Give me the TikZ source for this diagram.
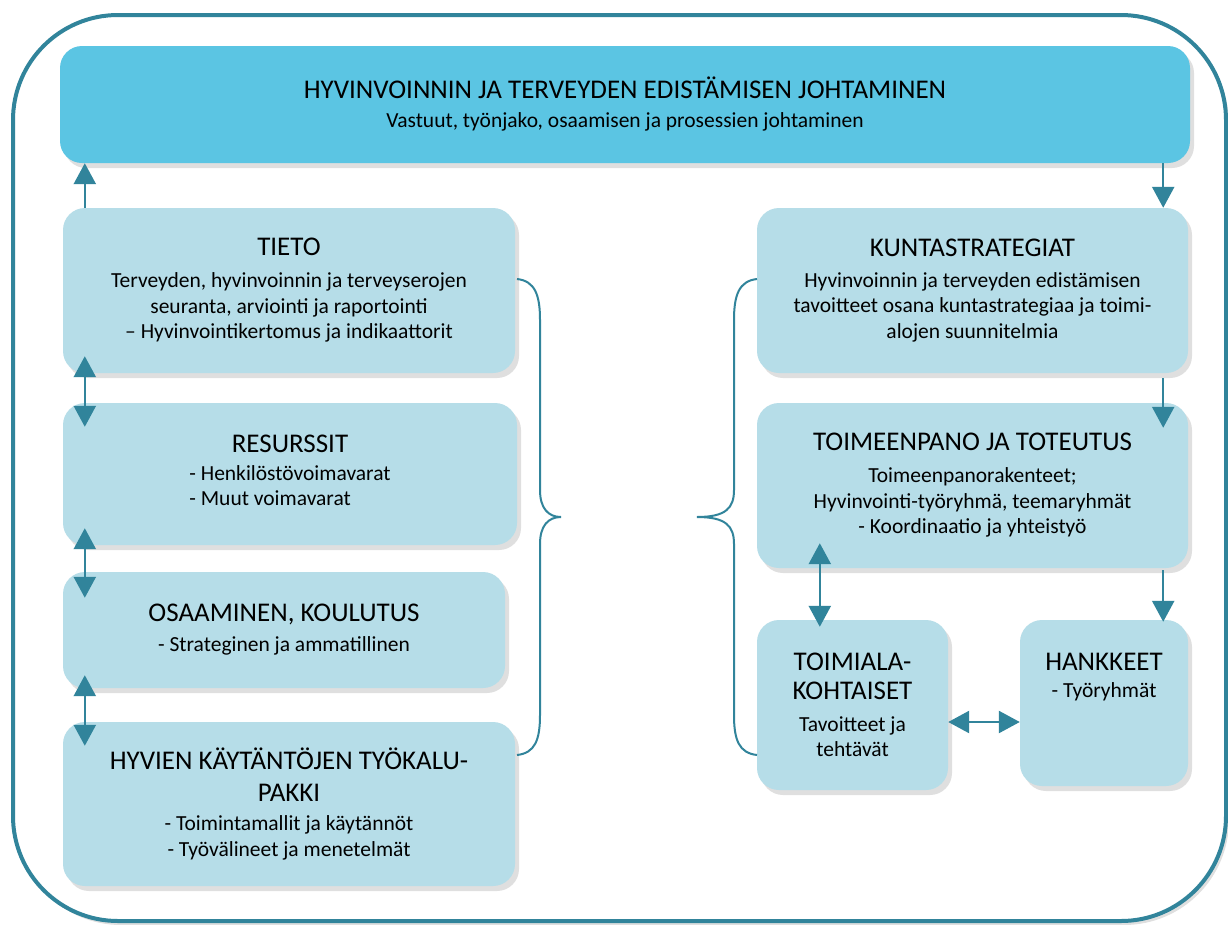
\documentclass[tikz,border=0pt]{standalone}
\usepackage{fontspec}
\setmainfont{Carlito}
\usetikzlibrary{arrows.meta,shadows,calc}

\definecolor{headblue}{HTML}{5BC5E3}
\definecolor{boxblue}{HTML}{B6DDE8}
\definecolor{teal}{HTML}{31849B}

\newcommand{\boxtitle}[1]{{\fontsize{27}{32}\selectfont #1}}

\tikzset{
  panel/.style={rectangle, rounded corners=22pt, fill=boxblue, draw=none,
    align=center, inner sep=0pt, font=\fontsize{21.5}{25.5}\selectfont,
    drop shadow={opacity=0.25, shadow xshift=4pt, shadow yshift=-5pt}},
  headpanel/.style={panel, fill=headblue},
  flow/.style={teal, line width=2.5pt, -{Triangle[width=22pt,length=21pt]}},
  flowboth/.style={teal, line width=2.5pt,
    {Triangle[width=22pt,length=21pt]}-{Triangle[width=22pt,length=21pt]}},
  bracket/.style={teal, line width=2pt},
}

\begin{document}
\begin{tikzpicture}[x=1pt,y=-1pt]
  \useasboundingbox (0,0) rectangle (1228,924);

  % Outer frame
  \draw[teal, fill=white, line width=4pt, rounded corners=105pt,
    drop shadow={opacity=0.25, shadow xshift=3pt, shadow yshift=-4pt}]
    (13,15) rectangle (1226,921);

  % Header
  \node[headpanel, minimum width=1130pt, minimum height=117pt] (head) at (625,104.5)
    {\boxtitle{HYVINVOINNIN JA TERVEYDEN EDISTÄMISEN JOHTAMINEN}\\[3.5pt]
     Vastuut, työnjako, osaamisen ja prosessien johtaminen};

  % Left column
  \node[panel, minimum width=452pt, minimum height=165pt] (tieto) at (289,290.5)
    {\boxtitle{TIETO}\\[6.5pt]
     Terveyden, hyvinvoinnin ja terveyserojen\\
     seuranta, arviointi ja raportointi\\
     – Hyvinvointikertomus ja indikaattorit};
  \node[panel, minimum width=454pt, minimum height=142pt] (resurssit) at (290,474)
    {\boxtitle{RESURSSIT}\\[9pt]
     \begin{tabular}{@{}l@{}}- Henkilöstövoimavarat\\- Muut voimavarat\end{tabular}};
  \node[panel, minimum width=442pt, minimum height=116pt] (osaaminen) at (284,630)
    {\boxtitle{OSAAMINEN, KOULUTUS}\\[4.5pt]
     - Strateginen ja ammatillinen};
  \node[panel, minimum width=452pt, minimum height=164pt] (hyvat) at (289,804)
    {\boxtitle{HYVIEN KÄYTÄNTÖJEN TYÖKALU-}\\[6.5pt]
     \boxtitle{PAKKI}\\[3.5pt]
     - Toimintamallit ja käytännöt\\
     - Työvälineet ja menetelmät};

  % Right column
  \node[panel, minimum width=431pt, minimum height=165pt] (strategia) at (972.5,290.5)
    {\boxtitle{KUNTASTRATEGIAT}\\[5.5pt]
     Hyvinvoinnin ja terveyden edistämisen\\
     tavoitteet osana kuntastrategiaa ja toimi-\\
     alojen suunnitelmia};
  \node[panel, minimum width=431pt, minimum height=165pt] (toimeenpano) at (972.5,485.5)
    {\boxtitle{TOIMEENPANO JA TOTEUTUS}\\[6.5pt]
     Toimeenpanorakenteet;\\
     Hyvinvointi-työryhmä, teemaryhmät\\
     - Koordinaatio ja yhteistyö};
  \node[panel, minimum width=191pt, minimum height=170pt] (toimiala) at (852.5,705)
    {\boxtitle{TOIMIALA-}\\[3.5pt]
     \boxtitle{KOHTAISET}\\[6.5pt]
     Tavoitteet ja\\
     tehtävät};
  \node[panel, minimum width=168pt, minimum height=166pt] (hankkeet) at (1104,703) {};
  \node[align=center, font=\fontsize{21.5}{25.5}\selectfont, anchor=north]
    (hanketeksti) at ([yshift=-30pt]hankkeet.north)
    {\boxtitle{HANKKEET}\\[1.5pt] - Työryhmät};

  % Arrows, left
  \draw[flow] ([xshift=22pt]tieto.north west) -- ([xshift=22pt]tieto.north west |- head.south);
  \draw[flowboth] ([xshift=22pt,yshift=17pt]tieto.south west)
    -- ([xshift=22pt,yshift=-24pt]resurssit.north west);
  \draw[flowboth] ([xshift=22pt,yshift=17pt]resurssit.south west)
    -- ([xshift=22pt,yshift=-26pt]osaaminen.north west);
  \draw[flowboth] ([xshift=22pt,yshift=13pt]osaaminen.south west)
    -- ([xshift=22pt,yshift=-24pt]hyvat.north west);

  % Arrows, right
  \draw[flow] ([xshift=-25pt]strategia.north east |- head.south) -- ([xshift=-25pt]strategia.north east);
  \draw[flow] ([xshift=-25pt,yshift=-5pt]strategia.south east)
    -- ([xshift=-25pt,yshift=-25pt]toimeenpano.north east);
  \draw[flow] ([xshift=-25pt,yshift=-2pt]toimeenpano.south east)
    -- ([xshift=-25pt,yshift=-2pt]toimeenpano.south east |- hankkeet.north);
  \draw[flowboth] ([xshift=63pt,yshift=25pt]toimeenpano.south west)
    -- ([xshift=63pt,yshift=-7pt]toimiala.north west);
  \draw[flowboth] ([yshift=-17pt]toimiala.east) -- ([yshift=-17pt]toimiala.east -| hankkeet.west);

  % Braces
  \draw[bracket] (517,279) .. controls (535,281) and (540,295) .. (540,320)
    -- (540,490) .. controls (540,508) and (548,517) .. (561,517)
    .. controls (548,517) and (540,526) .. (540,544)
    -- (540,715) .. controls (540,740) and (535,753) .. (517,755);
  \draw[bracket] (757,279) .. controls (739,281) and (734,295) .. (734,320)
    -- (734,490) .. controls (734,508) and (726,517) .. (697,517)
    .. controls (726,517) and (734,526) .. (734,544)
    -- (734,715) .. controls (734,740) and (739,753) .. (757,755);
\end{tikzpicture}
\end{document}
